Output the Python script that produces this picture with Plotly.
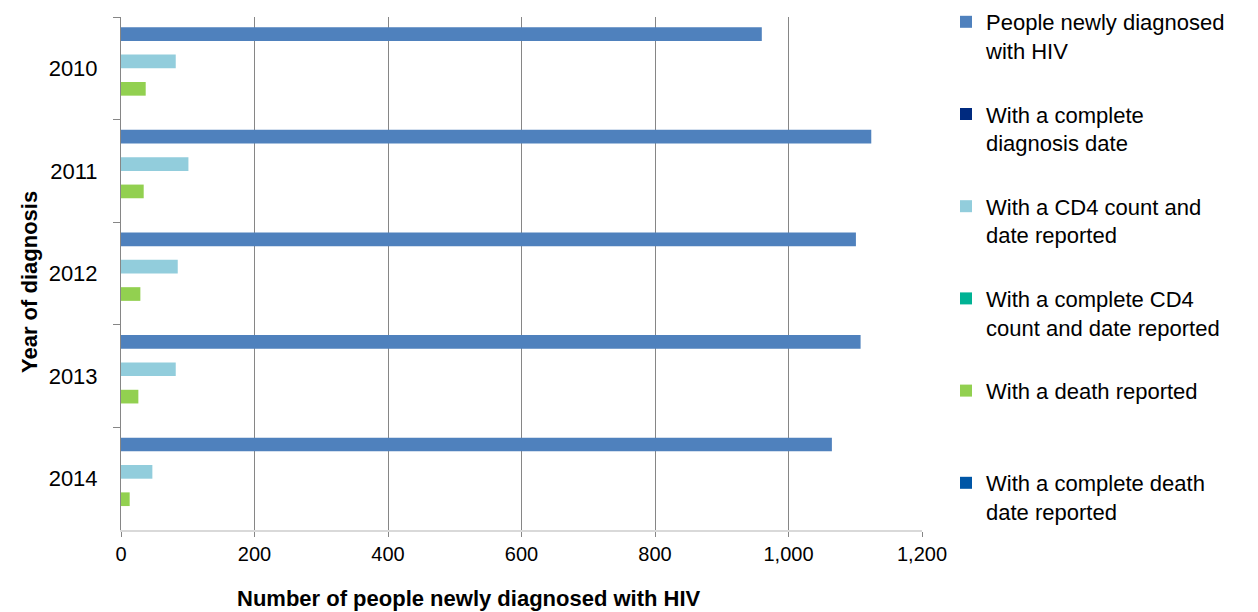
import plotly.graph_objects as go

years = ["2010", "2011", "2012", "2013", "2014"]

series_names = [
    "People newly diagnosed<br>with HIV",
    "With a complete<br>diagnosis date",
    "With a CD4 count and<br>date reported",
    "With a complete CD4<br>count and date reported",
    "With a death reported<br> ",
    "With a complete death<br>date reported",
]
newly_diagnosed = [960, 1124, 1101, 1108, 1065]
complete_diag_date = [0, 0, 0, 0, 0]
cd4_reported = [82, 101, 85, 82, 47]
complete_cd4 = [0, 0, 0, 0, 0]
death_reported = [37, 34, 29, 26, 13]
complete_death_date = [0, 0, 0, 0, 0]

x_title = "Number of people newly diagnosed with HIV"
y_title = "Year of diagnosis"

series_values = [newly_diagnosed, complete_diag_date, cd4_reported,
                 complete_cd4, death_reported, complete_death_date]
colors = ["#4F81BD", "#002A7F", "#92CDDC", "#00B294", "#92D050", "#0056A6"]

fig = go.Figure()
for i, (name, vals, col) in enumerate(zip(series_names, series_values, colors)):
    fig.add_trace(go.Bar(
        y=years, x=vals, name=name, orientation="h",
        marker=dict(color=col, line=dict(width=0)),
        legendgroup=f"g{i}",
    ))

font_family = "Liberation Sans, Arial, sans-serif"
OFF = 8  # default page body margin
W, H = 1258 - OFF, 612 - OFF
# target plot area in screen pixels
px0, px1, py0, py1 = 121, 922, 17, 530
L, R = px0 - OFF, W - (px1 - OFF)
T, B = py0 - OFF, H - (py1 - OFF)
pw, ph = px1 - px0, py1 - py0


def sx(x):
    return (x - px0) / pw


def sy(y):
    return (py1 - y) / ph


fig.update_layout(
    width=W, height=H,
    barmode="group", bargap=0.2, bargroupgap=0,
    plot_bgcolor="white", paper_bgcolor="white",
    margin=dict(l=L, r=R, t=T, b=B, autoexpand=False),
    font=dict(family=font_family, size=20, color="#000000"),
    showlegend=True,
    legend=dict(
        x=sx(946), y=sy(1), xanchor="left", yanchor="top",
        font=dict(size=22, color="#000000"),
        valign="top", tracegroupgap=32, itemwidth=30,
        traceorder="grouped", maxheight=H,
        bgcolor="rgba(0,0,0,0)",
    ),
    xaxis=dict(
        range=[0, 1200], dtick=200, tickformat=",d",
        showgrid=True, gridcolor="#868686", gridwidth=1,
        showline=True, linecolor="#D9D9D9", linewidth=2,
        ticks="outside", ticklen=5, tickcolor="#868686",
        tickfont=dict(size=20),
        zeroline=False, automargin=False,
    ),
    yaxis=dict(
        autorange="reversed",
        showline=True, linecolor="#868686", linewidth=1,
        ticks="outside", ticklen=7, tickcolor="#868686",
        tickson="boundaries",
        showgrid=False, automargin=False,
        tickfont=dict(size=22),
        ticklabelstandoff=18,
    ),
    annotations=[
        dict(text=f"<b>{x_title}</b>", xref="paper", yref="paper",
             x=sx(469), y=sy(598),
             xanchor="center", yanchor="middle", showarrow=False,
             font=dict(size=22)),
        dict(text=f"<b>{y_title}</b>", xref="paper", yref="paper",
             x=sx(29), y=sy(282), textangle=-90,
             xanchor="center", yanchor="middle", showarrow=False,
             font=dict(size=22)),
    ],
)

fig.write_html("out.html")
